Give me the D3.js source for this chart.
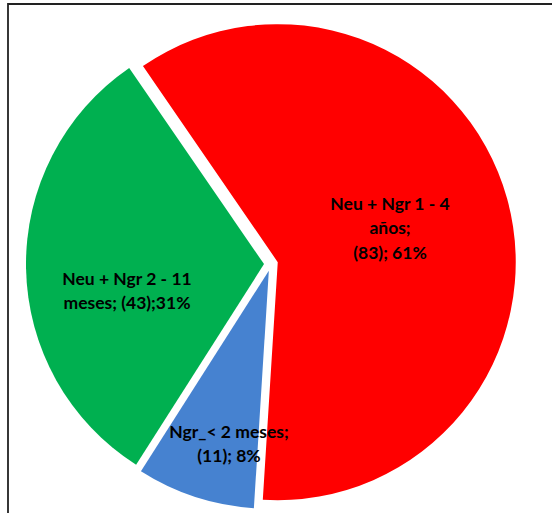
<!DOCTYPE html>
<html>
<head>
<meta charset="utf-8">
<script src="https://cdn.jsdelivr.net/npm/d3@7"></script>
<style>
  html, body { margin: 0; padding: 0; background: #fff; }
  svg { display: block; }
  .lbl { font-family: Lato, "Open Sans", sans-serif; font-weight: 700; font-size: 17.5px; fill: #000; }
</style>
</head>
<body>
<svg id="chart" width="552" height="513"></svg>
<script>
// slice order as drawn clockwise
const categories = ['Neu + Ngr 1 - 4 años', 'Ngr_< 2 meses', 'Neu + Ngr 2 - 11 meses'];
const counts = [83, 11, 43];
const percents = ['61%', '8%', '31%'];
const colors = ['#ff0000', '#4682d0', '#00b050'];
// label lines, as they wrap in the picture
const labelLines = [
  ['Neu + Ngr 1 - 4', 'años;', '(83); 61%'],
  ['Ngr_< 2 meses;', '(11); 8%'],
  ['Neu + Ngr 2 - 11', 'meses; (43);31%']
];
const labelAt = [[390, 228], [229, 444], [127, 291]];

const W = 552, H = 513;
const cx = 271, cy = 264, R = 238, explode = 7;
const start = -34.5 * Math.PI / 180;

const svg = d3.select('#chart');

// frame (only top and left edges show in the crop)
svg.append('path')
  .attr('d', `M8,${H} L8,4 L${W},4`)
  .attr('fill', 'none')
  .attr('stroke', '#222')
  .attr('stroke-width', 1.8);

const pie = d3.pie().sort(null).value(d => d)
  .startAngle(start).endAngle(start + 2 * Math.PI);
const arcs = pie(counts);
const arc = d3.arc().innerRadius(0).outerRadius(R);

const g = svg.append('g').attr('transform', `translate(${cx},${cy})`);

g.selectAll('path.slice')
  .data(arcs)
  .enter().append('path')
  .attr('class', 'slice')
  .attr('d', arc)
  .attr('fill', (d, i) => colors[i])
  .attr('transform', d => {
    const a = (d.startAngle + d.endAngle) / 2;
    return `translate(${explode * Math.sin(a)},${-explode * Math.cos(a)})`;
  });

// data labels
arcs.forEach((d, i) => {
  const lines = labelLines[i];
  const [lx, ly] = labelAt[i];
  const lh = 24.5;
  const t = svg.append('text')
    .attr('class', 'lbl')
    .attr('text-anchor', 'middle')
    .attr('x', lx)
    .attr('y', ly - (lines.length - 1) * lh / 2);
  lines.forEach((s, k) => {
    t.append('tspan')
      .attr('x', lx)
      .attr('dy', k === 0 ? '0.35em' : lh)
      .text(s);
  });
});
</script>
</body>
</html>
